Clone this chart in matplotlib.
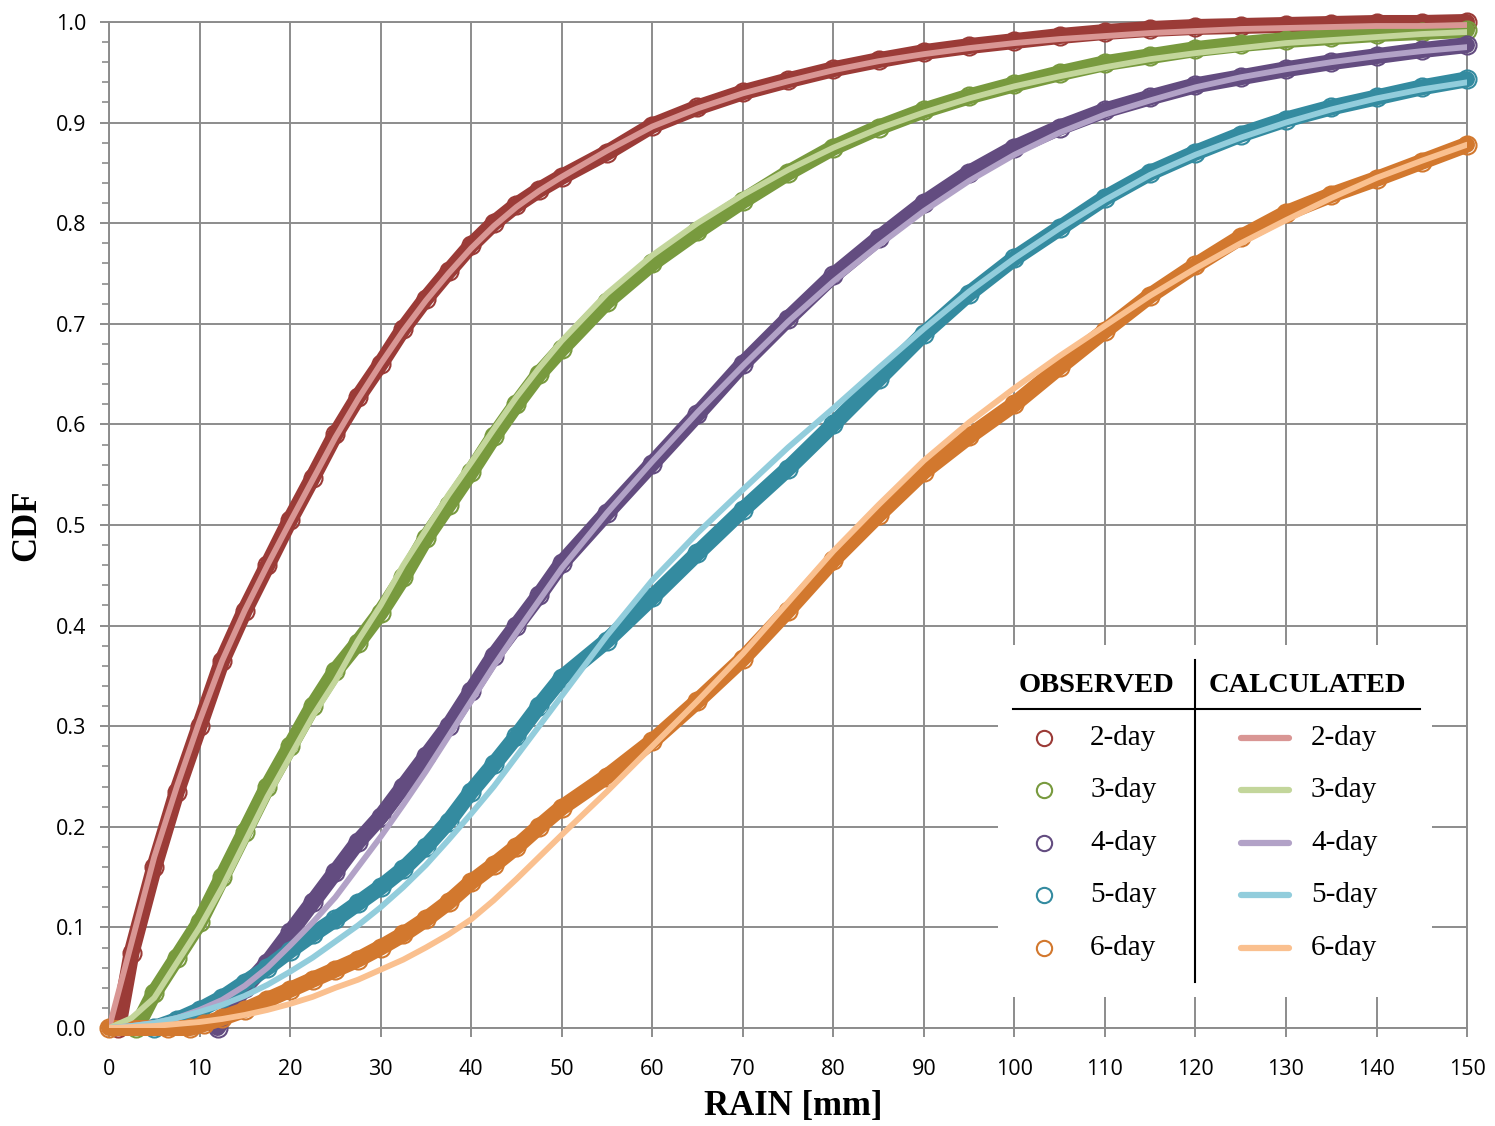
import matplotlib.pyplot as plt
from matplotlib.ticker import MultipleLocator, FormatStrFormatter

# rain depth grid [mm] used for the calculated curves
rain_grid = [0, 2.5, 5, 7.5, 10, 12.5, 15, 17.5, 20, 22.5, 25, 27.5, 30, 32.5, 35, 37.5,
             40, 42.5, 45, 47.5, 50, 55, 60, 65, 70, 75, 80, 85, 90, 95, 100, 105, 110,
             115, 120, 125, 130, 135, 140, 145, 150]

# calculated CDF (fitted)
calc_2day = [0, 0.085, 0.17, 0.24, 0.305, 0.365, 0.415, 0.46, 0.503, 0.545, 0.587, 0.625,
             0.66, 0.693, 0.723, 0.75, 0.775, 0.797, 0.816, 0.832, 0.846, 0.872, 0.896,
             0.914, 0.929, 0.941, 0.952, 0.961, 0.968, 0.974, 0.979, 0.983, 0.986, 0.989,
             0.991, 0.993, 0.994, 0.995, 0.996, 0.996, 0.997]
calc_3day = [0, 0.01, 0.03, 0.065, 0.1, 0.14, 0.185, 0.23, 0.27, 0.31, 0.345, 0.385,
             0.42, 0.46, 0.495, 0.53, 0.562, 0.595, 0.627, 0.656, 0.683, 0.73, 0.768,
             0.8, 0.828, 0.853, 0.875, 0.894, 0.91, 0.924, 0.936, 0.946, 0.955, 0.963,
             0.969, 0.974, 0.979, 0.982, 0.985, 0.988, 0.99]
calc_4day = [0, 0.002, 0.005, 0.01, 0.018, 0.028, 0.042, 0.06, 0.082, 0.105, 0.13, 0.16,
             0.19, 0.222, 0.255, 0.29, 0.325, 0.36, 0.393, 0.425, 0.457, 0.512, 0.563,
             0.612, 0.658, 0.702, 0.742, 0.778, 0.812, 0.842, 0.868, 0.89, 0.908, 0.922,
             0.935, 0.945, 0.953, 0.96, 0.966, 0.971, 0.975]
calc_5day = [0, 0.002, 0.005, 0.01, 0.016, 0.023, 0.032, 0.043, 0.056, 0.07, 0.086, 0.102,
             0.12, 0.14, 0.162, 0.187, 0.213, 0.24, 0.27, 0.3, 0.33, 0.39, 0.445, 0.492,
             0.535, 0.577, 0.616, 0.656, 0.695, 0.732, 0.765, 0.795, 0.823, 0.848, 0.868,
             0.885, 0.9, 0.913, 0.924, 0.933, 0.94]
calc_6day = [0, 0.001, 0.002, 0.004, 0.006, 0.009, 0.013, 0.018, 0.024, 0.031, 0.04, 0.048,
             0.058, 0.068, 0.08, 0.093, 0.108, 0.127, 0.148, 0.17, 0.192, 0.235, 0.28,
             0.325, 0.372, 0.423, 0.474, 0.52, 0.564, 0.602, 0.636, 0.668, 0.698, 0.728,
             0.755, 0.78, 0.803, 0.825, 0.845, 0.862, 0.878]

# observed (empirical) CDF, each series starts where the data starts
rain_obs_2day = [1.0] + rain_grid[1:]
obs_2day = [0, 0.075, 0.16, 0.235, 0.3, 0.365, 0.415, 0.46, 0.505, 0.547, 0.59, 0.627,
            0.66, 0.695, 0.725, 0.752, 0.778, 0.8, 0.818, 0.833, 0.846, 0.87, 0.897,
            0.915, 0.93, 0.942, 0.953, 0.962, 0.97, 0.976, 0.981, 0.986, 0.99, 0.993,
            0.995, 0.996, 0.997, 0.998, 0.999, 0.999, 1.0]
rain_obs_3day = [3.0] + rain_grid[2:]
obs_3day = [0, 0.035, 0.07, 0.105, 0.15, 0.195, 0.24, 0.28, 0.32, 0.355, 0.383, 0.413,
            0.448, 0.487, 0.52, 0.553, 0.588, 0.62, 0.65, 0.675, 0.722, 0.76, 0.792, 0.822,
            0.85, 0.875, 0.895, 0.912, 0.926, 0.938, 0.949, 0.959, 0.966, 0.973, 0.978,
            0.982, 0.985, 0.988, 0.99, 0.992]
rain_obs_4day = [12.0] + rain_grid[6:]
obs_4day = [0, 0.04, 0.065, 0.095, 0.125, 0.155, 0.185, 0.21, 0.24, 0.27, 0.3, 0.335,
            0.37, 0.4, 0.43, 0.462, 0.512, 0.561, 0.61, 0.66, 0.705, 0.748, 0.785, 0.82,
            0.85, 0.875, 0.895, 0.912, 0.925, 0.937, 0.945, 0.953, 0.96, 0.966, 0.972,
            0.977]
rain_obs_5day = [5.0] + rain_grid[3:]
obs_5day = [0, 0.008, 0.018, 0.03, 0.045, 0.06, 0.077, 0.093, 0.108, 0.124, 0.14, 0.158,
            0.18, 0.205, 0.235, 0.262, 0.29, 0.32, 0.348, 0.385, 0.428, 0.472, 0.515,
            0.556, 0.6, 0.645, 0.69, 0.73, 0.765, 0.795, 0.825, 0.85, 0.87, 0.888, 0.903,
            0.915, 0.925, 0.935, 0.943]
rain_obs_6day = [0.0, 6.5, 9.0, 10.5] + rain_grid[5:]
obs_6day = [0, 0, 0, 0.004, 0.01, 0.018, 0.028, 0.038, 0.048, 0.058, 0.068, 0.08, 0.093,
            0.108, 0.125, 0.145, 0.162, 0.18, 0.2, 0.219, 0.25, 0.285, 0.325, 0.367,
            0.415, 0.465, 0.51, 0.553, 0.588, 0.62, 0.657, 0.693, 0.728, 0.758, 0.786,
            0.81, 0.828, 0.844, 0.861, 0.878]

labels = ["2-day", "3-day", "4-day", "5-day", "6-day"]
obs_x = [rain_obs_2day, rain_obs_3day, rain_obs_4day, rain_obs_5day, rain_obs_6day]
obs_y = [obs_2day, obs_3day, obs_4day, obs_5day, obs_6day]
calc_y = [calc_2day, calc_3day, calc_4day, calc_5day, calc_6day]

obs_colors = ["#9B3B37", "#789A3E", "#634C80", "#348BA0", "#D2782E"]
calc_colors = ["#D99694", "#C3D69B", "#B2A2C7", "#92CDDC", "#FAC08F"]

serif = "Liberation Serif"
sans = "Open Sans"
grid_col = "#8C8C8C"

fig = plt.figure(figsize=(14.95, 11.26), dpi=100)
ax = fig.add_axes([0.0729, 0.0870, 0.9084, 0.8935])

for xs, ys, c in zip(obs_x, obs_y, obs_colors):
    ax.plot(xs, ys, color=c, lw=11.5, solid_capstyle="round", solid_joinstyle="round",
            marker="o", ms=13, mfc="none", mec=c, mew=1.5, zorder=3, clip_on=False)
for ys, c in zip(calc_y, calc_colors):
    ax.plot(rain_grid, ys, color=c, lw=4.2, solid_capstyle="round",
            solid_joinstyle="round", zorder=4)

ax.set_xlim(0, 150)
ax.set_ylim(0, 1)
ax.xaxis.set_major_locator(MultipleLocator(10))
ax.yaxis.set_major_locator(MultipleLocator(0.1))
ax.yaxis.set_minor_locator(MultipleLocator(0.02))
ax.yaxis.set_major_formatter(FormatStrFormatter("%.1f"))
ax.set_axisbelow(True)
ax.grid(True, which="major", color=grid_col, lw=1.4)
ax.tick_params(which="major", length=6.5, width=1.4, color=grid_col, labelsize=15.5, pad=10)
ax.tick_params(axis="x", which="major", pad=16)
ax.tick_params(axis="y", which="minor", length=5, width=1.2, color=grid_col)
for lab in ax.get_xticklabels() + ax.get_yticklabels():
    lab.set_family(sans)
for s in ax.spines.values():
    s.set_color(grid_col)
    s.set_linewidth(1.4)

fig.text(0.0181, 0.5337, "CDF", rotation=90, ha="center", va="center",
         fontsize=25, fontweight="bold", family=serif)
fig.text(0.5304, 0.0169, "RAIN [mm]", ha="center", va="center",
         fontsize=25, fontweight="bold", family=serif)

# table-style legend
leg = fig.add_axes([0.6676, 0.1146, 0.2903, 0.3126])
leg.set_xlim(0, 1)
leg.set_ylim(0, 1)
leg.set_facecolor("white")
leg.set_xticks([])
leg.set_yticks([])
for s in leg.spines.values():
    s.set_visible(False)

leg.text(0.2258, 0.8835, "OBSERVED", ha="center", va="center", fontsize=20.5,
         fontweight="bold", family=serif)
leg.text(0.712, 0.8835, "CALCULATED", ha="center", va="center", fontsize=20.5,
         fontweight="bold", family=serif)
leg.plot([0.0346, 0.972], [0.818, 0.818], color="black", lw=1.5)
leg.plot([0.4539, 0.4539], [0.0426, 0.957], color="black", lw=1.5)

row_y = [0.7358, 0.588, 0.4375, 0.29, 0.139]
for yy, lab, oc, cc in zip(row_y, labels, obs_colors, calc_colors):
    leg.plot([0.106], [yy], marker="o", ms=11, mfc="none", mec=oc, mew=1.5)
    leg.text(0.212, yy, lab, ha="left", va="center", fontsize=21, family=serif)
    leg.plot([0.56, 0.6705], [yy, yy], color=cc, lw=4.5, solid_capstyle="round")
    leg.text(0.721, yy, lab, ha="left", va="center", fontsize=21, family=serif)

fig.savefig("out.png", dpi=100)
